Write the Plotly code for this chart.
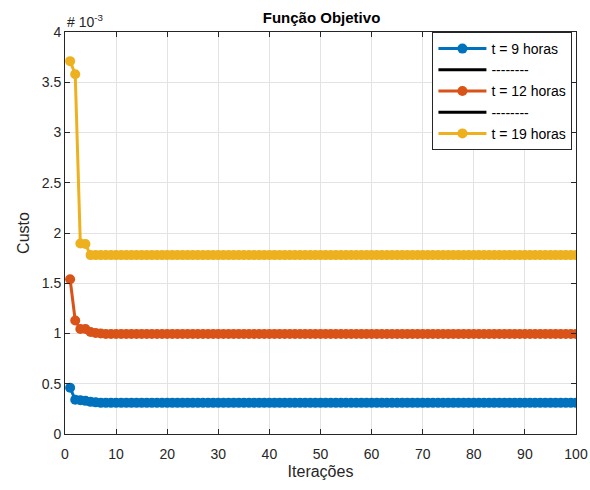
import plotly.graph_objects as go

iters = list(range(1, 101))
blue_vals = [0.46, 0.34, 0.335, 0.33, 0.32, 0.315] + [0.31] * 94
orange_vals = [1.54, 1.13, 1.045, 1.045, 1.015, 1.005, 1.0] + [0.995] * 93
yellow_vals = [3.71, 3.58, 1.895, 1.89] + [1.78] * 96
series_names = ["t = 9 horas", "t = 12 horas", "t = 19 horas"]
colors = ["#0072BD", "#D95319", "#EDB120"]
x_ticks = list(range(0, 101, 10))
y_ticks = [0, 0.5, 1, 1.5, 2, 2.5, 3, 3.5, 4]

fig = go.Figure()
data = [blue_vals, orange_vals, yellow_vals]
for i, (vals, name, c) in enumerate(zip(data, series_names, colors)):
    fig.add_trace(go.Scatter(x=iters, y=vals, mode="lines+markers", name=name,
                             line=dict(color=c, width=3),
                             marker=dict(color=c, size=10)))
    if i < 2:
        fig.add_trace(go.Scatter(x=[None], y=[None], mode="lines", name="--------",
                                 line=dict(color="black", width=3)))

axis_common = dict(showline=True, linecolor="#262626", linewidth=1, mirror="ticks",
                   ticks="inside", ticklen=5, tickcolor="#262626", automargin=False,
                   showgrid=True, gridcolor="#E3E3E3", gridwidth=1, zeroline=False,
                   tickfont=dict(size=14, color="#262626"))
fig.update_layout(
    width=590, height=490,
    margin=dict(l=65, r=14, t=32, b=56),
    plot_bgcolor="white", paper_bgcolor="white",
    font=dict(family="Liberation Sans, Arial, sans-serif", color="#262626"),
    title=dict(text="<b>Função Objetivo</b>", x=0.545, xanchor="center", y=0.975, yanchor="top",
               font=dict(size=15, color="black")),
    xaxis=dict(range=[0, 100], tickvals=x_ticks, ticklabelstandoff=7,
               title=dict(text="Iterações", font=dict(size=16), standoff=5), **axis_common),
    yaxis=dict(range=[0, 4], tickvals=y_ticks, ticktext=[f"{v:g}" for v in y_ticks],
               title=dict(text="Custo", font=dict(size=16), standoff=8), **axis_common),
    legend=dict(x=0.993, xanchor="right", y=1.0, yanchor="top",
                bordercolor="#262626", borderwidth=1, bgcolor="white",
                font=dict(size=14, color="black"), tracegroupgap=0, itemwidth=48),
    showlegend=True,
)
fig.add_annotation(text="# 10<sup>-3</sup>", xref="paper", yref="paper", x=0, y=1.0,
                   xanchor="left", yanchor="bottom", showarrow=False,
                   font=dict(size=14, color="#262626"))
fig.write_html("out.html")
